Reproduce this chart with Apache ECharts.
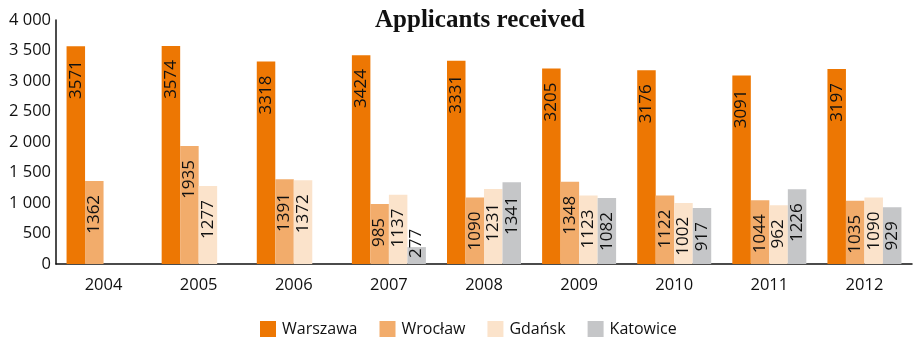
<!DOCTYPE html>
<html>
<head>
<meta charset="utf-8">
<script src="https://cdn.jsdelivr.net/npm/echarts@6/dist/echarts.min.js"></script>
<style>
  html, body { margin: 0; padding: 0; background: #fff; }
  #chart { width: 922px; height: 338px; }
</style>
</head>
<body>
<div id="chart"></div>
<script>
// Applicants received per office, 2004–2012
const years = ['2004', '2005', '2006', '2007', '2008', '2009', '2010', '2011', '2012'];
const warszawa = [3571, 3574, 3318, 3424, 3331, 3205, 3176, 3091, 3197];
const wroclaw  = [1362, 1935, 1391, 985, 1090, 1348, 1122, 1044, 1035];
const gdansk   = [null, 1277, 1372, 1137, 1231, 1123, 1002, 962, 1090];
const katowice = [null, null, null, 277, 1341, 1082, 917, 1226, 929];
const seriesNames = ['Warszawa', 'Wrocław', 'Gdańsk', 'Katowice'];
const seriesColors = ['#ED7703', '#F2AC6B', '#FBE3CB', '#C5C6C8'];

const FONT = '"Open Sans", "Noto Sans", sans-serif';

function toData(values) {
  return values.map(v => {
    if (v == null) return null;
    // short bars keep their label anchored at the base so it stays readable
    if (v < 600) {
      return { value: v, label: { position: 'insideBottom', align: 'left', distance: 6 } };
    }
    return v;
  });
}

function makeSeries(name, values, color) {
  return {
    name: name,
    type: 'bar',
    barWidth: 18.5,
    barGap: '0%',
    data: toData(values),
    itemStyle: { color: color },
    label: {
      show: true,
      position: 'insideTop',
      rotate: 90,
      align: 'right',
      verticalAlign: 'middle',
      distance: 14,
      color: '#111',
      fontFamily: FONT,
      fontSize: 17
    },
    emphasis: { disabled: true }
  };
}

const chart = echarts.init(document.getElementById('chart'), null, { renderer: 'canvas' });
chart.setOption({
  animation: false,
  backgroundColor: '#fff',
  title: {
    text: 'Applicants received',
    left: 475,
    textAlign: 'center',
    top: 3,
    textStyle: {
      fontFamily: '"Liberation Serif", "DejaVu Serif", serif',
      fontWeight: 'bold',
      fontSize: 25,
      color: '#111'
    }
  },
  legend: {
    top: 321,
    left: 260,
    padding: 0,
    itemWidth: 16,
    itemHeight: 16,
    itemGap: 22,
    icon: 'rect',
    textStyle: { fontFamily: FONT, fontSize: 16, color: '#111', padding: [0, 0, 0, 1] },
    data: seriesNames
  },
  grid: { left: 56, right: 10, top: 20, bottom: 74, containLabel: false },
  xAxis: {
    type: 'category',
    data: years,
    axisLine: { show: true, lineStyle: { color: '#111', width: 1.5 } },
    axisTick: { show: false },
    axisLabel: { color: '#111', fontFamily: FONT, fontSize: 16.5, margin: 13 }
  },
  yAxis: {
    type: 'value',
    min: 0,
    max: 4000,
    interval: 500,
    axisLine: { show: true, lineStyle: { color: '#111', width: 1.5 } },
    axisTick: { show: false },
    splitLine: { show: false },
    axisLabel: {
      color: '#111',
      fontFamily: FONT,
      fontSize: 16.5,
      margin: 5,
      formatter: v => String(v).replace(/\B(?=(\d{3})+(?!\d))/g, ' ')
    }
  },
  series: [
    makeSeries(seriesNames[0], warszawa, seriesColors[0]),
    makeSeries(seriesNames[1], wroclaw, seriesColors[1]),
    makeSeries(seriesNames[2], gdansk, seriesColors[2]),
    makeSeries(seriesNames[3], katowice, seriesColors[3])
  ]
});
</script>
</body>
</html>
